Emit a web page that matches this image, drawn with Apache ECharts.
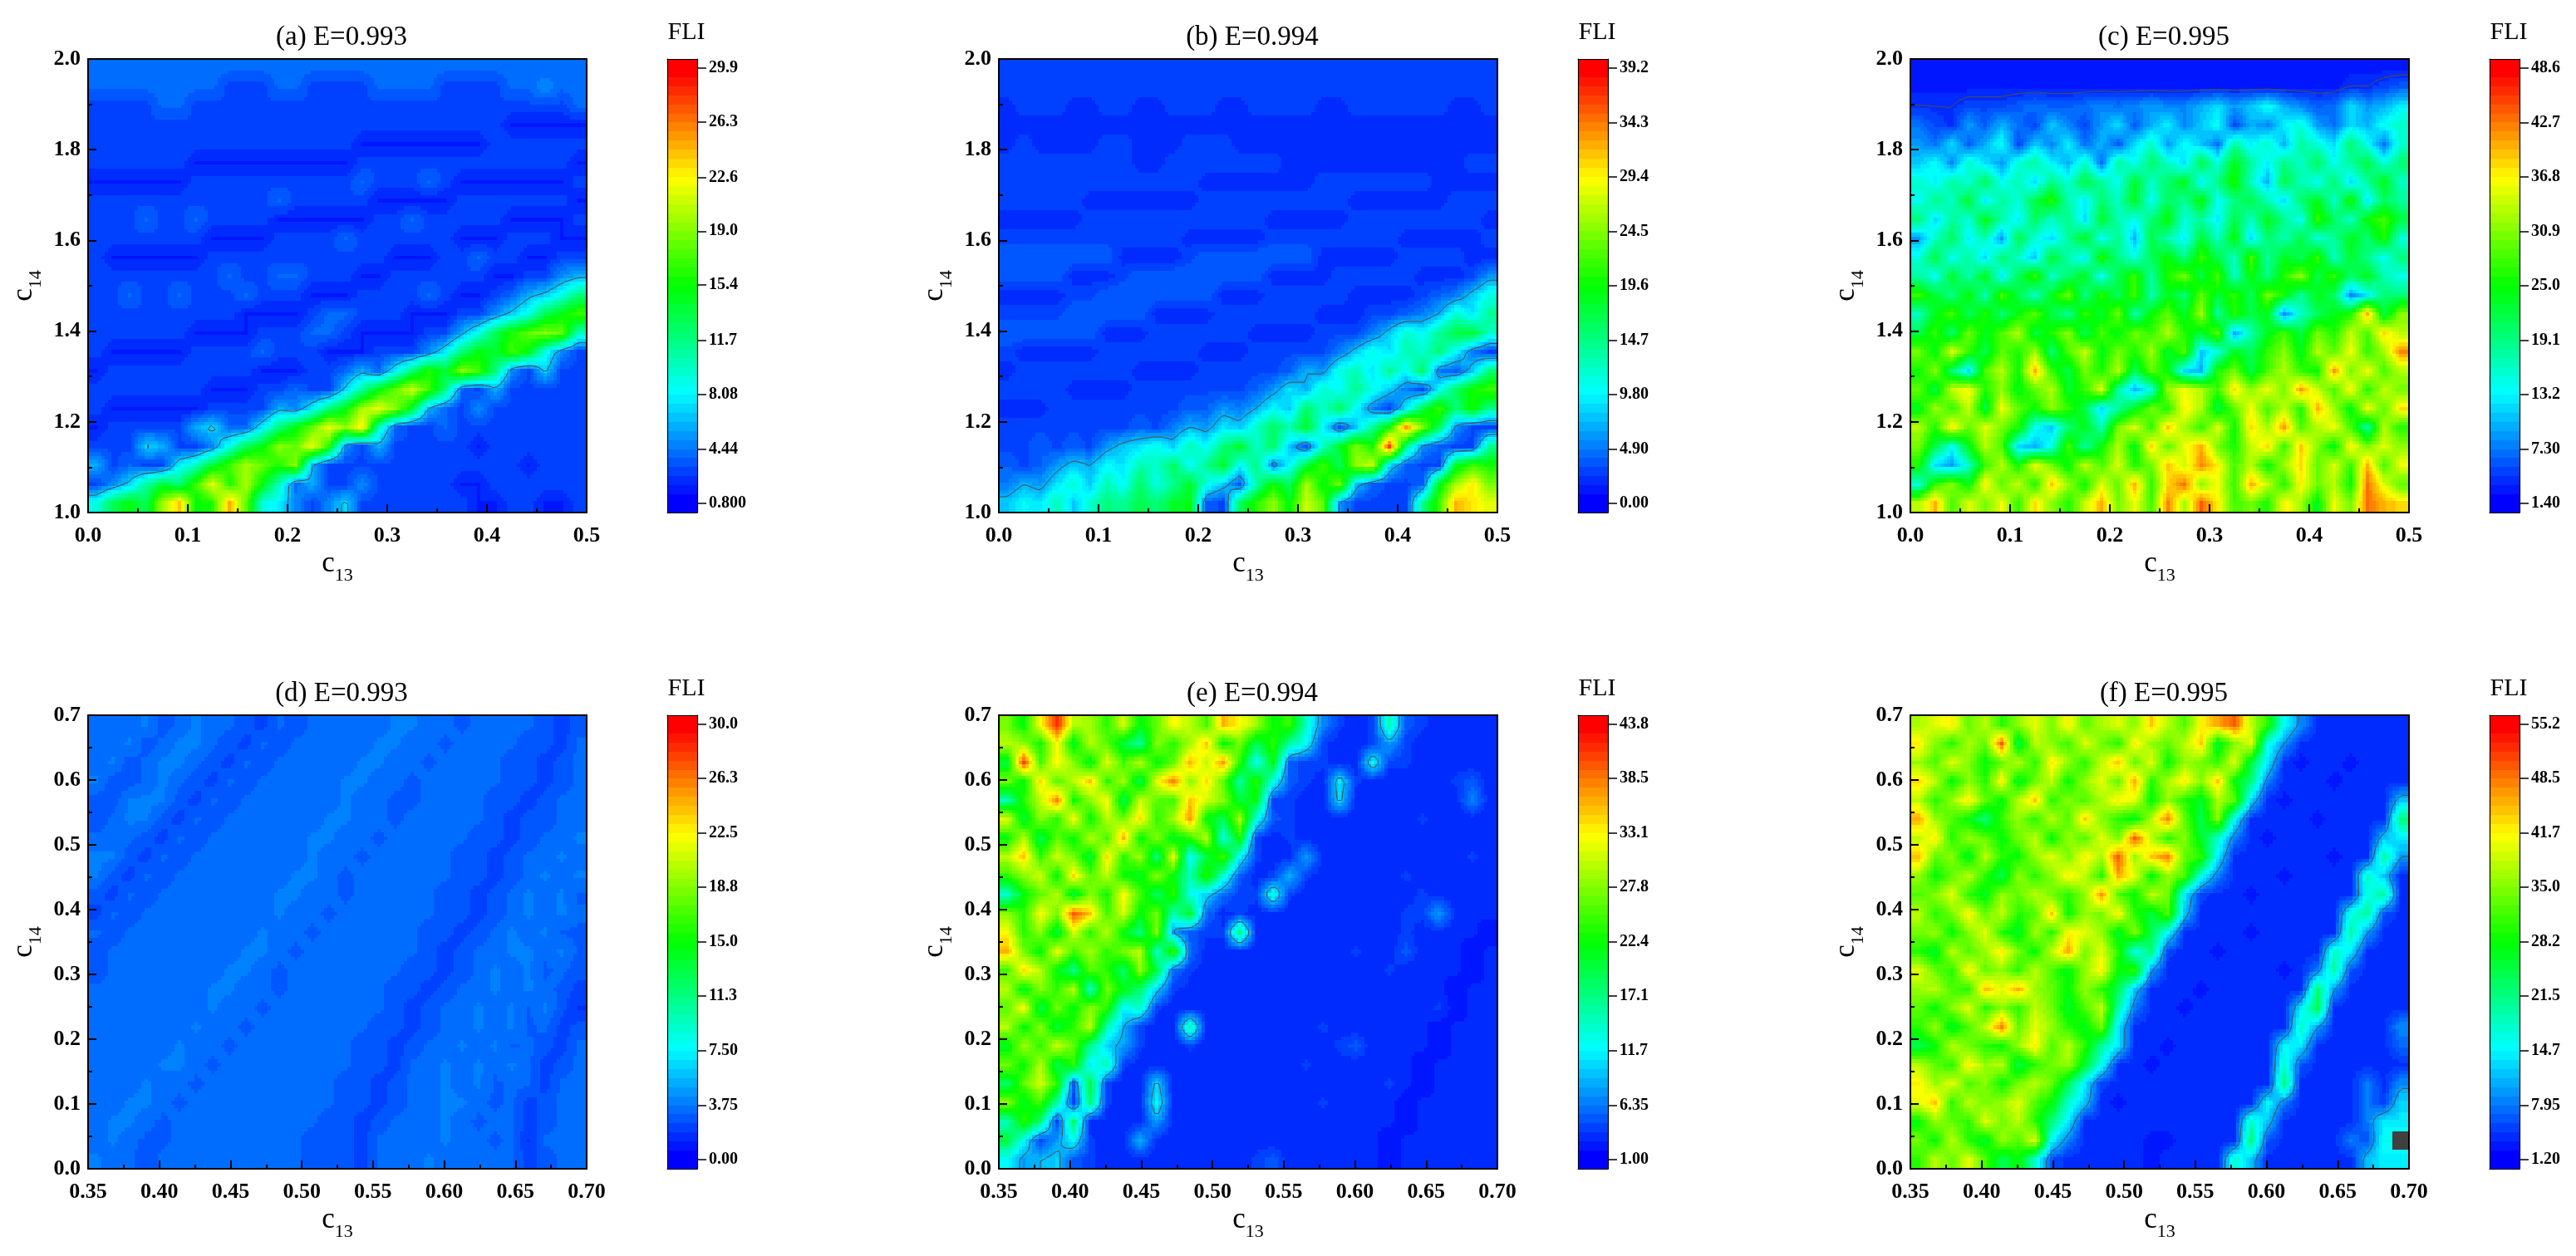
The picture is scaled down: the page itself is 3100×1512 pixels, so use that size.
<!DOCTYPE html>
<html><head><meta charset="utf-8">
<style>html,body{margin:0;padding:0;background:#fff}#c{width:3100px;height:1512px}</style>
<script src="https://cdn.jsdelivr.net/npm/echarts@6/dist/echarts.min.js"></script>
</head><body><div id="c"></div>
<script>
const ticksA=['0.800','4.44','8.08','11.7','15.4','19.0','22.6','26.3','29.9'];
const ticksB=['0.00','4.90','9.80','14.7','19.6','24.5','29.4','34.3','39.2'];
const ticksC=['1.40','7.30','13.2','19.1','25.0','30.9','36.8','42.7','48.6'];
const ticksD=['0.00','3.75','7.50','11.3','15.0','18.8','22.5','26.3','30.0'];
const ticksE=['1.00','6.35','11.7','17.1','22.4','27.8','33.1','38.5','43.8'];
const ticksF=['1.20','7.95','14.7','21.5','28.2','35.0','41.7','48.5','55.2'];
const titles=['(a) E=0.993','(b) E=0.994','(c) E=0.995','(d) E=0.993','(e) E=0.994','(f) E=0.995'];
const rangeTop={x:[0,0.5],y:[1,2],dx:0.1,dy:0.2,fx:1,fy:1};
const rangeBottom={x:[0.35,0.7],y:[0,0.7],dx:0.05,dy:0.1,fx:2,fy:1};
const contourLevels=[6.5,7,4,null,9,10];

// FLI values; rows top (largest c14) to bottom, columns left to right
const fliA=[
[4,4,4,4,4,4,4,4,4,4,4,4,4,4,4,4,4,4,4,4,4,4,4,4,4,4,4,4,4,4],
[4,4,4,4,4,4,4,4,3,3,3,4,4,3,3,3,3,4,4,4,4,3,3,3,3,4,4,5,4,4],
[3,3,3,3,4,4,3,3,3,3,3,3,3,3,3,3,3,3,3,3,3,3,3,3,3,3,3,3,3,4],
[3,3,3,3,3,3,3,3,3,3,3,3,3,3,3,3,3,3,3,3,3,3,3,3,3,2,2,2,2,2],
[3,3,3,3,3,3,3,3,3,3,3,3,3,3,3,3,2,2,2,2,2,2,2,2,3,3,3,3,3,3],
[3,3,3,3,3,3,2,2,2,2,2,2,2,2,2,2,3,3,3,3,3,3,3,3,3,3,3,3,3,2],
[2,2,2,2,2,2,3,3,3,3,3,3,3,3,3,3,4,3,3,3,4,3,2,2,2,2,2,2,2,3],
[3,3,3,3,3,3,3,3,3,3,3,4,3,3,3,3,3,2,2,2,2,2,3,3,3,3,3,3,3,2],
[3,3,3,4,3,3,4,3,3,3,3,2,2,2,2,2,2,3,3,4,3,3,3,3,3,2,2,2,2,3],
[3,3,3,3,3,3,3,2,2,2,2,3,3,3,3,4,3,3,3,3,3,3,2,2,2,3,3,3,2,2],
[3,2,2,2,2,2,2,3,3,3,3,3,3,3,3,3,3,3,2,2,2,3,3,4,3,3,2,2,3,3],
[3,3,3,3,3,3,3,3,4,3,3,4,4,3,3,3,2,2,3,3,3,3,3,3,2,2,3,3,5,6],
[3,3,4,3,3,4,3,3,3,4,3,3,3,2,2,2,3,3,3,3,4,3,2,2,3,4,6,7,9,12],
[3,3,3,3,3,3,3,3,3,2,2,2,2,3,4,4,3,3,3,2,2,2,3,3,5,7,9,13,15,17],
[3,3,3,3,3,3,2,2,2,2,3,3,3,4,4,3,2,2,2,2,3,3,6,9,13,16,18,19,18,10],
[3,2,2,2,2,2,3,3,3,3,4,3,3,3,2,2,2,3,3,3,5,8,12,15,14,17,15,9,5,3],
[2,3,3,3,3,3,3,3,3,3,2,2,2,3,3,4,6,4,8,12,16,14,19,17,12,5,3,7,3,3],
[3,3,3,3,3,3,3,2,2,2,3,3,4,3,3,7,11,15,18,21,17,12,4,3,6,3,3,3,3,3],
[3,2,2,2,2,2,2,3,3,3,3,6,5,8,12,15,20,22,19,14,6,4,3,5,3,3,3,3,3,3],
[2,3,3,3,3,3,6,7,4,4,8,12,15,18,22,19,23,10,4,3,3,4,3,3,3,3,3,3,3,3],
[3,3,3,7,6,3,3,5,9,13,15,19,18,22,16,5,3,6,3,3,3,3,3,2,3,3,3,3,3,3],
[6,3,4,3,3,8,10,14,17,20,18,16,19,6,3,3,3,3,3,3,3,3,3,3,3,3,2,3,3,3],
[3,5,7,11,14,12,17,22,16,20,15,10,4,6,3,3,5,3,3,3,3,3,2,2,3,3,3,3,3,3],
[9,13,15,13,20,24,15,16,25,18,9,8,5,3,5,7,3,3,3,3,3,3,3,2,2,3,3,2,2,3]];
const fliB=[
[3,3,3,3,3,3,3,3,3,3,3,3,3,3,3,3,3,3,3,3,3,3,3,3,3,3,3,3,3,3],
[3,3,3,3,3,3,3,3,3,3,3,3,3,3,3,3,3,3,3,3,3,3,3,3,3,3,3,3,3,3],
[2,3,3,3,2,2,3,3,2,2,3,3,3,2,2,3,3,3,3,2,2,3,3,3,3,3,3,2,2,3],
[2,2,2,2,2,2,2,2,2,2,2,2,2,2,2,2,2,2,2,2,2,2,2,2,2,2,2,2,2,2],
[2,3,2,2,2,2,3,3,2,2,2,3,3,3,2,2,2,2,2,2,2,2,2,2,2,2,2,2,2,2],
[3,3,3,3,3,3,3,3,2,2,3,3,3,3,3,3,3,2,2,2,2,2,2,2,2,2,2,2,3,3],
[3,3,3,3,3,3,3,3,3,3,3,3,2,2,2,2,2,2,2,3,3,3,3,3,3,3,2,2,2,2],
[3,3,3,3,3,2,2,2,2,2,2,2,3,3,3,3,3,3,3,3,3,2,2,2,2,2,2,3,3,3],
[2,2,2,2,2,3,3,3,3,3,3,3,3,3,3,3,2,2,2,2,2,3,3,3,3,3,3,3,3,2],
[3,3,3,3,3,3,3,3,3,3,3,2,2,2,2,2,3,3,3,3,3,3,3,3,2,2,2,2,2,3],
[4,4,4,4,4,4,4,2,2,2,2,3,4,4,4,4,4,4,4,2,2,2,2,2,3,3,3,3,2,2],
[4,4,4,4,2,2,2,3,4,4,4,4,4,4,4,4,2,2,2,2,3,3,3,3,3,2,2,2,3,6],
[2,2,2,2,3,3,4,4,4,4,4,4,4,2,2,2,3,3,3,3,3,2,2,2,2,3,4,5,8,11],
[3,3,3,3,4,4,4,4,4,2,2,2,2,3,3,3,3,3,3,2,2,2,3,3,4,5,7,12,9,14],
[4,4,4,4,4,4,2,2,2,3,3,3,3,3,3,2,2,2,2,3,3,3,5,8,12,10,14,17,18,12],
[3,2,2,2,2,2,3,3,3,3,3,3,2,2,2,3,3,3,3,3,5,8,11,9,13,12,15,10,5,3],
[2,3,3,3,3,3,3,3,2,2,2,2,3,3,3,3,3,4,7,6,11,13,9,14,10,16,5,4,8,15],
[3,3,3,3,2,2,2,2,3,3,3,3,3,3,3,4,6,9,7,12,10,14,11,8,5,3,10,16,20,22],
[2,2,2,3,3,3,3,3,3,3,3,4,4,6,5,7,10,8,16,12,16,10,5,3,9,17,22,15,20,14],
[3,3,3,3,3,3,3,3,4,3,5,7,6,9,8,12,16,13,18,10,4,8,14,20,33,24,16,6,3,3],
[3,3,4,3,4,3,6,8,9,11,8,13,10,15,18,12,16,8,4,12,18,24,20,36,15,6,4,3,3,14],
[4,3,4,6,8,7,10,9,13,12,16,10,14,18,10,15,5,10,17,22,16,25,27,9,4,3,3,18,22,20],
[5,7,6,9,12,8,13,10,16,11,14,18,11,8,4,13,20,16,26,19,24,8,4,3,3,4,19,26,30,24],
[8,10,9,13,8,12,15,14,17,15,18,19,4,3,16,21,25,19,27,23,6,3,3,3,3,14,22,32,30,28]];
const fliC=[
[3,3,3,3,3,3,3,3,3,3,3,3,3,3,3,3,3,3,3,3,3,3,3,3,3,3,3,3,3,3],
[3,3,3,3,3,3,3,3,3,3,3,3,3,3,3,3,3,3,3,3,3,3,3,3,3,3,4,4,5,6],
[4,4,4,5,5,5,6,7,6,6,7,8,7,8,9,8,8,10,12,9,11,14,10,8,6,7,12,9,10,13],
[7,5,4,9,6,10,7,5,11,8,5,9,12,6,10,13,8,11,14,5,10,8,13,15,9,7,12,10,14,16],
[9,7,12,6,10,14,5,11,8,13,7,10,6,12,16,9,14,11,7,18,13,16,10,18,15,12,20,14,7,16],
[11,14,8,16,12,9,15,18,13,10,16,7,18,14,20,16,12,22,15,24,18,13,19,16,21,14,18,22,15,20],
[16,13,18,15,21,14,17,12,19,15,22,18,14,23,16,20,24,13,19,26,16,10,22,17,14,20,12,18,24,16],
[14,19,16,23,13,18,15,22,26,17,13,20,16,24,14,21,18,25,14,19,22,17,12,20,24,16,26,13,21,18],
[20,12,18,15,24,17,13,21,16,19,12,23,17,14,20,25,15,18,13,22,16,24,19,14,27,21,16,25,28,22],
[9,16,21,13,17,9,22,15,12,18,24,14,19,10,22,17,13,23,16,25,12,20,17,22,15,18,24,20,26,15],
[15,22,14,18,12,20,16,11,23,17,13,26,19,15,21,25,19,27,22,16,28,18,24,21,27,16,23,19,14,20],
[18,14,23,17,24,13,21,27,16,20,24,14,22,27,18,26,30,22,28,16,25,19,26,31,22,27,20,24,17,14],
[27,23,19,25,17,28,22,16,24,30,19,26,21,28,17,24,20,29,23,27,21,30,25,18,24,21,8,13,20,20],
[16,24,28,21,26,20,25,29,22,18,27,23,30,17,25,29,23,32,18,26,22,24,8,16,21,24,26,40,22,31],
[22,27,20,30,24,28,33,22,26,31,21,28,24,30,27,33,26,23,29,9,17,24,28,22,30,26,34,28,38,33],
[30,24,35,27,22,29,26,32,20,28,34,24,30,26,32,23,29,11,15,24,21,27,31,24,33,29,36,27,32,42],
[25,31,20,12,28,33,25,40,27,22,30,26,33,21,29,25,12,10,26,30,22,28,33,27,25,41,30,36,28,33],
[29,22,34,37,26,31,24,29,33,23,27,35,18,10,15,32,36,33,27,38,31,36,30,41,34,28,37,26,34,30],
[24,32,27,34,22,36,29,25,31,27,22,12,18,24,30,26,37,33,22,29,36,28,34,26,40,32,24,36,29,38],
[33,26,37,29,35,30,26,14,11,20,24,17,30,35,27,39,32,27,35,25,38,32,41,28,33,36,28,18,33,26],
[30,22,14,24,33,28,12,10,15,28,18,25,33,24,38,29,36,40,30,26,34,38,27,39,31,24,37,30,35,31],
[26,12,9,16,27,33,25,36,30,24,34,28,35,26,30,39,34,42,37,28,33,25,32,38,29,35,27,40,28,36],
[15,27,31,24,37,29,34,26,39,32,25,35,29,40,27,38,43,31,36,27,40,34,26,37,30,33,25,43,35,29],
[33,40,28,35,30,36,27,38,31,26,34,40,30,36,28,42,32,44,37,28,30,26,37,32,24,36,30,43,40,38]];
const fliD=[
[3.3,3.3,3.3,3.9,2.7,3.3,3.9,3.3,3.3,2.7,2.2,3.3,2.7,3.3,3.3,3.3,3.3,3.3,3.9,3.9,3.3,3.3,3,3.3,3.3,3.3,3.3,2.7,2.2,2.7],
[3.3,3.3,3.9,2.7,3.3,3.9,3.9,3.3,2.7,2.2,3.3,2.7,3.3,3.3,3.3,3.3,3.3,3.9,3.9,3.3,3.3,3,3.3,3.3,3.3,3.3,2.7,2.7,2.2,3.3],
[3.3,3.9,2.7,3.3,3.9,3.9,3.3,2.7,2.2,3.3,2.7,3.3,3.3,3.3,3.3,3.3,3.9,3.9,3.3,3.3,3,3.3,3.3,3.3,3.3,2.7,2.7,2.2,2.7,3.3],
[3.9,2.7,2.7,3.3,3.9,3.3,2.7,2.2,3.3,2.7,3.3,3.3,3.3,3.3,3.3,3.9,3.9,3.3,3.3,3,3.3,3.3,3.3,3.3,3.3,2.7,2.7,2.2,2.7,3.3],
[2.7,2.7,3.9,3.9,3.9,2.7,2.2,3.3,2.7,3.3,3.3,3.3,3.3,3.3,3.3,3.9,3.3,3.3,3,3,3.3,3.3,3.3,3.3,2.7,2.7,2.2,2.7,3.3,3.3],
[2.7,3.3,3.9,3.9,2.7,2.2,3.3,2.7,3.3,3.3,3.3,3.3,3.3,3.3,3.9,3.9,3.3,3.3,3,3.3,3.3,3.3,3.3,3.3,2.7,2.2,2.7,2.7,3.3,3.3],
[3.3,3.3,3.3,2.7,2.2,3.3,2.7,3.3,3.3,3.3,3.3,3.3,3.3,3.9,3.9,3.3,3.3,3,3.3,3.3,3.3,3.3,3.3,2.7,2.7,2.2,2.7,3.3,3.3,3.9],
[3.9,3.9,2.7,2.2,3.3,2.7,3.3,3.3,3.3,3.3,3.3,3.3,3.3,3.9,3.3,3.3,3,3.3,3.3,3.3,3.3,3.3,2.7,2.7,2.2,2.7,3.3,3.3,3.9,3.3],
[3.9,2.7,2.2,3.3,2.7,3.3,3.3,3.3,3.3,3.3,3.3,3.3,3.9,3.9,3.3,3,3.3,3.3,3.3,3.3,3.3,3.3,2.7,2.7,2.2,2.7,3.3,3.9,3.3,3.9],
[2.7,2.2,3.3,2.7,3.3,3.3,3.3,3.3,3.3,3.3,3.3,3.9,3.9,3.3,3.3,3,3.3,3.3,3.3,3.3,3.3,2.7,2.7,2.2,2.7,3.3,3.9,3.3,3.9,3],
[2.2,3.3,2.7,3.3,3.3,3.3,3.3,3.3,3.3,3.3,3.3,3.9,3.3,3.3,3,3.3,3.3,3.3,3.3,3.3,3.3,2.7,2.7,2.2,2.7,3.3,3.9,3.3,3.9,3.3],
[3.3,2.7,3.3,3.3,3.3,3.3,3.3,3.3,3.3,3.3,3.9,3.3,3.3,3,3.3,3.3,3.3,3.3,3.3,3.3,2.7,2.7,2.2,2.7,3.3,3.9,3.3,3.9,3,3],
[2.7,3.3,3.3,3.3,3.3,3.3,3.3,3.3,3.3,3.9,3.9,3.3,3,3.3,3.3,3.3,3.3,3.3,3.3,3.3,2.7,2.2,2.7,3.3,3.3,3.9,3.9,3.3,3.9,3],
[2.7,3.3,3.3,3.3,3.3,3.3,3.3,3.3,3.9,3.9,3.3,3,3.3,3.3,3.3,3.3,3.3,3.3,3.3,2.7,2.7,2.2,2.7,3.3,3.9,3.3,3.9,3,3.3,2.7],
[3.3,3.3,3.3,3.3,3.3,3.3,3.3,3.9,3.9,3.3,3.3,3,3.3,3.3,3.3,3.3,3.3,3.3,2.7,2.7,2.2,2.7,3.3,3.3,3.9,3.3,3.9,3.3,3,2.2],
[3.3,3.3,3.3,3.3,3.3,3.3,3.3,3.9,3.3,3.3,3,3.3,3.3,3.3,3.3,3.3,3.3,3.3,2.7,2.2,2.7,3.3,3.3,3.9,3.3,3.9,3,3.9,2.7,1.8],
[3.3,3.3,3.3,3.3,3.3,3.3,3.9,3.3,3.3,3,3.3,3.3,3.3,3.3,3.3,3.3,3.3,2.7,2.7,2.2,2.7,3.3,3.3,3.9,3.3,3.9,3,3.3,2.2,2.7],
[3.3,3.3,3.3,3.3,3.3,3.9,3.3,3.3,3,3.3,3.3,3.3,3.3,3.3,3.3,3.3,2.7,2.7,2.2,2.7,3.3,3.3,3.9,3.3,3.9,3,3.3,2.7,2.2,3.3],
[3.3,3.3,3.3,3.3,3.9,3.9,3.3,3,3.3,3.3,3.3,3.3,3.3,3.3,3.3,3.3,2.7,2.7,2.2,3.3,3.3,3.9,3.3,3.9,3.3,3.9,3.3,2.2,2.7,3.3],
[3.3,3.3,3.3,3.9,3.3,3.3,3,3.3,3.3,3.3,3.3,3.3,3.3,3.3,3.3,2.7,2.7,2.2,2.7,3.3,3.3,3.9,3.3,3.9,3,3.3,3.3,2.2,3.3,3.3],
[3.3,3.3,3.9,3.9,3.3,3,3.3,3.3,3.3,3.3,3.3,3.3,3.3,3.3,3.3,2.7,2.7,2.2,2.7,3.3,3.3,3.9,3.9,3.3,3,3.3,2.2,2.7,3.3,3.3],
[3.3,3.9,3.9,3.3,3,3.3,3.3,3.3,3.3,3.3,3.3,3.3,3.3,3.3,2.7,2.7,2.2,2.7,3.3,3.3,3.3,3.9,3.3,3,3.3,3.3,2.2,2.7,3.3,3.3],
[3.3,3.9,3.3,3,3,3.3,3.3,3.3,3.3,3.3,3.3,3.3,3.3,2.7,2.7,2.7,2.2,3.3,3.3,3.3,3.3,3.9,3.3,3.3,3,3.3,1.8,3.3,3.3,3.3],
[3.9,3.3,3.3,2.7,3.3,3.3,3.3,3.3,3.3,3.3,3.3,3.3,3.3,2.7,2.7,2.7,2.2,3.3,3.3,3.3,3.9,3.3,3.3,3.3,3.3,3.3,2.2,2.7,3.3,3.3]];
const fliE=[
[27,22,33,42,30,29,24,31,22,26,33,30,25,36,33,29,22,25,14,7,4,3,4,15,5,4,3,3,3,3],
[30,28,23,33,21,30,26,20,16,28,24,29,35,22,27,19,24,16,12,4,3,3,4,8,4,3,3,3,3,3],
[20,41,25,33,28,21,32,25,30,22,26,36,30,37,24,12,22,5,4,4,3,3,12,4,4,3,3,3,3,3],
[27,22,34,26,30,35,24,29,19,32,38,28,34,26,16,24,13,5,4,3,11,4,3,3,3,3,3,4,5,3],
[15,24,30,38,23,28,33,19,31,26,25,35,31,28,20,22,4,4,3,3,10,3,3,3,3,3,3,3,7,3],
[32,20,28,24,33,22,30,27,34,24,29,37,22,19,29,13,5,4,3,3,3,3,3,3,3,4,3,3,3,3],
[22,30,19,26,22,30,25,36,22,28,21,24,30,13,23,4,3,4,3,3,3,3,3,3,3,3,3,3,3,3],
[30,35,24,31,27,20,34,24,29,17,32,12,20,25,12,4,3,3,8,3,3,3,3,3,3,3,3,3,4,3],
[24,28,31,22,34,26,30,23,21,28,22,15,24,14,5,3,4,9,4,3,3,3,3,3,4,3,3,3,3,3],
[14,22,26,30,20,28,23,33,25,18,24,13,10,6,4,4,13,4,3,3,3,3,3,3,3,4,3,3,3,3],
[28,24,33,27,40,35,25,31,22,27,15,21,6,3,4,3,3,3,3,3,3,3,3,3,4,4,8,3,3,3],
[33,24,28,20,31,24,30,22,17,28,8,5,4,4,17,3,3,3,3,3,3,3,3,3,4,3,3,3,3,2],
[36,27,22,32,25,29,24,27,30,14,24,6,3,3,3,3,3,3,3,3,3,4,3,3,5,3,3,3,2,3],
[25,34,30,22,17,26,24,18,28,20,6,4,3,3,3,3,3,3,3,3,3,3,3,4,3,3,3,3,2,3],
[30,21,28,24,30,14,27,22,18,10,4,3,3,3,3,3,3,3,3,3,3,3,3,3,3,3,3,2,3,3],
[26,33,19,27,22,28,24,12,14,4,3,3,3,3,3,3,3,3,3,3,3,3,3,3,3,3,4,2,3,3],
[30,22,28,20,24,30,15,9,4,3,3,15,3,3,3,3,3,3,3,4,3,3,3,3,3,3,2,3,3,3],
[21,29,24,31,26,17,10,8,4,3,3,4,3,3,3,3,3,3,3,3,4,5,3,3,3,3,2,3,3,3],
[27,22,30,19,24,11,15,4,3,3,3,3,3,3,3,3,3,3,4,3,3,3,3,3,3,2,3,3,3,3],
[18,26,31,24,5,20,4,3,3,10,3,3,3,3,3,3,3,3,3,3,3,3,3,4,3,2,3,3,3,3],
[28,21,25,16,4,18,4,3,3,12,3,3,3,3,3,3,3,3,3,4,3,3,3,3,2,3,3,3,3,3],
[15,24,18,4,18,3,3,3,3,8,3,3,3,3,3,3,3,3,3,3,3,3,3,3,2,3,3,3,3,3],
[20,12,4,8,12,4,3,3,9,3,3,3,3,3,3,3,3,3,3,3,3,3,3,2,3,3,3,3,3,3],
[12,8,9,10,5,4,3,3,3,3,3,3,3,3,3,4,5,3,3,3,3,3,3,2,3,3,3,3,3,3]];
const fliF=[
[37,40,42,33,38,30,36,40,34,42,33,37,40,35,44,38,32,42,46,50,38,30,15,9,4,4,4,4,4,4],
[42,35,30,37,33,50,24,38,35,31,40,34,30,42,36,33,38,44,26,35,40,16,10,4,4,4,4,4,4,4],
[36,32,40,35,28,33,38,30,42,36,30,38,45,33,40,28,36,34,31,40,25,14,4,3,4,4,3,4,4,4],
[43,38,28,35,30,42,26,34,38,28,36,40,33,46,30,37,42,35,44,28,22,8,4,4,4,3,4,4,4,4],
[38,30,36,42,33,28,38,44,30,35,32,37,42,40,28,36,30,26,37,33,13,4,3,4,4,4,4,4,4,12],
[46,36,32,28,22,31,36,30,38,32,44,35,30,27,38,48,33,24,35,15,4,4,4,4,3,4,4,4,4,22],
[38,42,30,36,33,28,34,38,28,36,32,40,34,50,38,30,35,26,18,8,4,3,4,4,4,4,4,4,12,14],
[45,33,35,26,38,30,28,36,40,34,42,37,50,36,44,48,33,30,14,4,4,4,4,4,4,3,4,4,20,10],
[36,28,33,38,30,24,36,30,35,42,38,30,46,40,28,36,32,16,8,4,4,4,3,4,4,4,4,18,12,4],
[32,35,40,30,27,36,33,38,34,30,36,47,32,28,38,34,14,5,4,4,3,4,4,4,4,4,4,16,20,4],
[38,30,34,42,33,38,30,32,44,28,36,34,42,30,25,32,12,4,4,4,4,4,4,4,4,4,16,20,6,4],
[34,36,28,35,40,30,26,37,30,42,40,36,26,35,24,15,4,4,4,4,3,4,4,4,4,4,20,10,4,4],
[30,26,38,32,36,42,34,28,38,46,34,40,30,16,22,5,4,4,3,4,4,4,4,4,4,18,14,4,4,4],
[40,33,30,42,33,36,30,38,32,27,36,42,28,30,10,4,4,4,4,4,4,4,3,4,8,20,6,4,4,4],
[36,38,32,30,45,40,46,36,33,28,36,30,24,12,4,4,4,3,4,4,4,4,4,4,22,10,4,4,4,4],
[33,28,35,40,30,36,30,38,34,26,32,38,20,8,4,4,3,4,4,4,4,4,4,14,24,4,4,4,4,4],
[30,36,26,32,38,48,33,40,36,30,27,34,14,4,4,4,4,4,4,4,4,4,4,18,10,4,4,4,4,9],
[24,28,38,34,30,28,36,42,32,38,30,20,14,4,4,3,4,4,4,4,4,4,15,14,4,4,4,4,4,7],
[38,33,30,42,36,38,24,30,34,36,26,16,4,4,3,4,4,4,4,4,4,4,18,6,4,4,4,4,4,4],
[42,36,40,32,35,28,34,38,33,24,14,5,4,4,4,4,4,4,4,4,4,4,22,4,4,4,4,8,4,9],
[40,44,30,38,34,36,40,32,28,18,12,4,3,4,4,4,4,4,4,4,4,15,8,4,4,4,4,8,5,13],
[28,36,33,30,40,34,38,30,22,14,4,4,4,4,4,4,4,4,4,4,18,12,4,4,4,4,4,8,14,14],
[34,28,38,30,26,36,32,40,15,8,4,4,4,4,3,3,4,4,4,4,22,6,4,4,4,4,8,6,16,null],
[30,38,33,40,32,24,28,18,6,4,4,4,4,4,3,4,4,4,4,18,12,4,4,4,4,4,4,12,14,14]];

const fields=[fliA,fliB,fliC,fliD,fliE,fliF];
const tickSets=[ticksA,ticksB,ticksC,ticksD,ticksE,ticksF];
const ranges=[rangeTop,rangeTop,rangeTop,rangeBottom,rangeBottom,rangeBottom];
const plotLeft=[106,1202,2299], plotTop=[71,861], plotW=600, plotH=546, barGap=697, barW=36;
const SERIF='"Liberation Serif","Times New Roman",serif';
const SUB=5, BANDS=48;
const stops=[[0,0,255],[0,255,255],[0,255,0],[255,255,0],[255,0,0]];
function bandColor(k){
  const f=Math.max(0,Math.min(1,k/(BANDS-1)))*4, a=Math.min(3,Math.floor(f)), t=f-a;
  const c=[0,1,2].map(n=>Math.round(stops[a][n]+(stops[a+1][n]-stops[a][n])*t));
  return 'rgb('+c.join(',')+')';
}
function scaleOf(p){
  const t=tickSets[p].map(Number), lo=t[0], hi=t[t.length-1], step=(hi-lo)/BANDS;
  return {t,lo,hi,step,axisMin:lo-step,axisMax:hi+step};
}
function bandOf(v,s){return Math.max(0,Math.min(BANDS-1,Math.floor((v-s.lo-s.step)/s.step)+1));}

const option={animation:false,backgroundColor:'#fff',title:[],grid:[],xAxis:[],yAxis:[],series:[]};
function axisName(sub){return '{c|c}{s|'+sub+'}';}
const nameRich={c:{fontFamily:SERIF,fontSize:35,color:'#000',verticalAlign:'bottom'},s:{fontFamily:SERIF,fontSize:22,color:'#000',verticalAlign:'bottom',padding:[0,0,-8,0]}};

fields.forEach((rows,p)=>{
  const col=p%3,row=Math.floor(p/3),L=plotLeft[col],T=plotTop[row],R=ranges[p],S=scaleOf(p);
  const ny=rows.length,nx=rows[0].length;
  rows.forEach((r,k)=>{if(r.length!==nx)console.error('row length',p,k,r.length);});
  const dx=(R.x[1]-R.x[0])/nx,dy=(R.y[1]-R.y[0])/ny;
  const at=(i,j)=>{
    i=Math.max(0,Math.min(nx-1,i));j=Math.max(0,Math.min(ny-1,j));
    let v=rows[j][i];
    while(v==null&&i>0){i--;v=rows[j][i];}
    return v;
  };
  const sample=(u,w)=>{
    const i=Math.floor(u),j=Math.floor(w),a=u-i,b=w-j;
    return (1-a)*(1-b)*at(i,j)+a*(1-b)*at(i+1,j)+(1-a)*b*at(i,j+1)+a*b*at(i+1,j+1);
  };
  const level=contourLevels[p];
  const idx=p*2;
  option.title.push({text:titles[p],left:L+300,top:T-47,textAlign:'center',textStyle:{fontFamily:SERIF,fontWeight:'normal',fontSize:33,color:'#000'}});
  option.title.push({text:'FLI',left:L+barGap+barW/2,top:T-52,textAlign:'center',textStyle:{fontFamily:SERIF,fontWeight:'normal',fontSize:30,color:'#000'}});
  option.grid.push({left:L,top:T,width:plotW,height:plotH,show:false});
  option.grid.push({left:L+barGap,top:T,width:barW,height:plotH,show:false});
  const tickLabel={fontFamily:SERIF,fontWeight:'bold',fontSize:26,color:'#000',showMinLabel:true,showMaxLabel:true,hideOverlap:false};
  const line={onZero:false,show:true,lineStyle:{color:'#000',width:2}};
  const mainX=option.xAxis.length,mainY=option.yAxis.length;
  option.xAxis.push({type:'value',gridIndex:idx,z:10,min:R.x[0],max:R.x[1],interval:R.dx,splitLine:{show:false},
    axisLine:line,axisTick:{inside:true,length:10,lineStyle:{color:'#000',width:2}},
    minorTick:{show:true,splitNumber:2,length:5,lineStyle:{color:'#000',width:2}},
    axisLabel:Object.assign({margin:15,formatter:v=>v.toFixed(R.fx)},tickLabel),
    name:axisName('13'),nameLocation:'middle',nameGap:44,nameTextStyle:{rich:nameRich}});
  option.yAxis.push({type:'value',gridIndex:idx,z:10,min:R.y[0],max:R.y[1],interval:R.dy,splitLine:{show:false},
    axisLine:line,axisTick:{inside:true,length:10,lineStyle:{color:'#000',width:2}},
    minorTick:{show:true,splitNumber:2,length:5,lineStyle:{color:'#000',width:2}},
    axisLabel:Object.assign({margin:9,formatter:v=>v.toFixed(R.fy)},tickLabel),
    name:axisName('14'),nameLocation:'middle',nameGap:60,nameRotate:90,nameTextStyle:{rich:nameRich}});
  const data=[];
  rows.forEach((r,j)=>r.forEach((v,i)=>data.push([R.x[0]+(i+.5)*dx,R.y[1]-(j+.5)*dy,v,i,j])));
  option.series.push({type:'custom',xAxisIndex:mainX,yAxisIndex:mainY,coordinateSystem:'cartesian2d',silent:true,progressive:0,animation:false,z:2,
    encode:{x:0,y:1},data,
    renderItem:(params,api)=>{
      const i=api.value(3),j=api.value(4);
      const a=api.coord([R.x[0]+i*dx,R.y[1]-j*dy]),b=api.coord([R.x[0]+(i+1)*dx,R.y[1]-(j+1)*dy]);
      const px=n=>a[0]+(b[0]-a[0])*n/SUB,py=n=>a[1]+(b[1]-a[1])*n/SUB;
      const kids=[];
      if(rows[j][i]==null){
        kids.push({type:'rect',shape:{x:Math.round(a[0]),y:Math.round(a[1]),width:Math.round(b[0])-Math.round(a[0]),height:Math.round(b[1])-Math.round(a[1])},style:{fill:'#404040'}});
        return {type:'group',children:kids};
      }
      for(let m=0;m<SUB;m++){
        const y0=Math.round(py(m)),y1=Math.round(py(m+1));
        let start=0,cur=bandOf(sample(i-.5+.5/SUB,j-.5+(m+.5)/SUB),S);
        for(let n=1;n<=SUB;n++){
          const k=n<SUB?bandOf(sample(i-.5+(n+.5)/SUB,j-.5+(m+.5)/SUB),S):-1;
          if(k!==cur){
            const x0=Math.round(px(start)),x1=Math.round(px(n));
            kids.push({type:'rect',shape:{x:x0,y:y0,width:x1-x0,height:y1-y0},style:{fill:bandColor(cur)}});
            start=n;cur=k;
          }
        }
      }
      if(level!=null){
        for(let m=0;m<SUB;m++)for(let n=0;n<SUB;n++){
          const u0=i-.5+n/SUB,w0=j-.5+m/SUB,st=1/SUB;
          const q=[sample(u0,w0),sample(u0+st,w0),sample(u0+st,w0+st),sample(u0,w0+st)];
          const pts=[];
          const edge=(v1,v2,x1,y1,x2,y2)=>{
            if((v1<level)!==(v2<level)){const t=(level-v1)/(v2-v1);pts.push([x1+(x2-x1)*t,y1+(y2-y1)*t]);}
          };
          edge(q[0],q[1],px(n),py(m),px(n+1),py(m));
          edge(q[1],q[2],px(n+1),py(m),px(n+1),py(m+1));
          edge(q[3],q[2],px(n),py(m+1),px(n+1),py(m+1));
          edge(q[0],q[3],px(n),py(m),px(n),py(m+1));
          for(let e=0;e+1<pts.length;e+=2){
            kids.push({type:'line',z2:5,shape:{x1:pts[e][0],y1:pts[e][1],x2:pts[e+1][0],y2:pts[e+1][1]},style:{stroke:'#5b4a42',lineWidth:1}});
          }
        }
      }
      return {type:'group',children:kids};
    }});
  const frameAxis={type:'value',gridIndex:idx,z:10,axisLine:line,axisTick:{show:false},axisLabel:{show:false},splitLine:{show:false}};
  option.xAxis.push(Object.assign({},frameAxis,{position:'top',min:R.x[0],max:R.x[1]}));
  option.yAxis.push(Object.assign({},frameAxis,{position:'right',min:R.y[0],max:R.y[1]}));
  const barIdx=option.xAxis.length;
  const thinLine={onZero:false,show:true,lineStyle:{color:'#000',width:1.2}};
  option.xAxis.push({type:'value',gridIndex:idx+1,min:0,max:1,z:10,axisLine:thinLine,position:'top',axisTick:{show:false},axisLabel:{show:false},splitLine:{show:false}});
  option.xAxis.push({type:'value',gridIndex:idx+1,min:0,max:1,z:10,axisLine:thinLine,position:'bottom',axisTick:{show:false},axisLabel:{show:false},splitLine:{show:false}});
  const barY=option.yAxis.length;
  option.yAxis.push({type:'value',gridIndex:idx+1,position:'right',min:S.axisMin,max:S.axisMax,z:10,axisLine:thinLine,splitLine:{show:false},
    axisTick:{show:true,length:11,customValues:S.t,lineStyle:{color:'#000',width:1.5}},
    axisLabel:{show:true,margin:14,customValues:S.t,fontFamily:SERIF,fontWeight:'bold',fontSize:20,color:'#000',hideOverlap:false,
      formatter:v=>{const n=S.t.findIndex(x=>Math.abs(x-v)<1e-6);return n>=0?tickSets[p][n]:'';}}});
  option.yAxis.push({type:'value',gridIndex:idx+1,position:'left',min:S.axisMin,max:S.axisMax,z:10,axisLine:thinLine,axisTick:{show:false},axisLabel:{show:false},splitLine:{show:false}});
  const bandData=[];
  for(let k=0;k<BANDS;k++){
    const lo=k===0?S.axisMin:S.lo+k*S.step, hi=k===BANDS-1?S.axisMax:S.lo+(k+1)*S.step;
    bandData.push([lo,hi,k]);
  }
  option.series.push({type:'custom',xAxisIndex:barIdx,yAxisIndex:barY,coordinateSystem:'cartesian2d',silent:true,animation:false,z:2,
    encode:{y:[0,1]},data:bandData,
    renderItem:(params,api)=>{
      const a=api.coord([0,api.value(1)]),b=api.coord([1,api.value(0)]);
      const y0=Math.round(a[1]),y1=Math.round(b[1]);
      return {type:'rect',shape:{x:a[0],y:y0,width:b[0]-a[0],height:y1-y0},style:{fill:bandColor(api.value(2))}};
    }});
});
const chart=echarts.init(document.getElementById('c'),null,{renderer:'canvas'});
chart.setOption(option);
</script></body></html>
